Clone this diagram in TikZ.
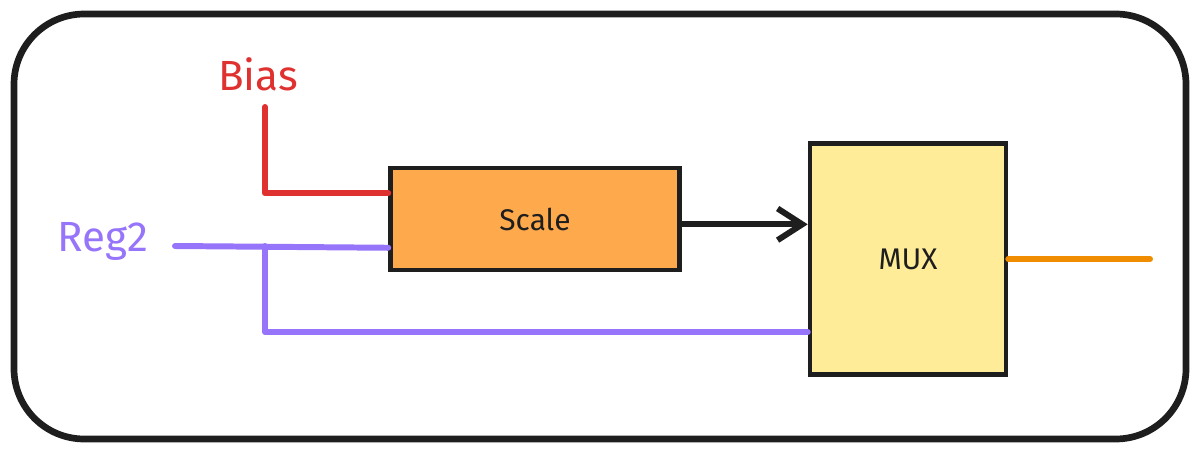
\documentclass[tikz,border=0pt]{standalone}
\usepackage{fontspec}
\setmainfont{Fira Sans}
\usepackage{xcolor}
\usepackage{tikz}
\usetikzlibrary{positioning, calc, arrows.meta}
\definecolor{exBlack}{RGB}{30, 30, 30}
\definecolor{exRed}{RGB}{224, 49, 49}
\definecolor{exViolet}{RGB}{151, 117, 250}
\definecolor{exOrange}{RGB}{255, 169, 77}
\definecolor{exYellow}{RGB}{255, 236, 153}
\definecolor{exAmber}{RGB}{240, 140, 0}
\tikzset{
    block/.style={
        rectangle,
        draw=exBlack,
        line width=2.6pt,
        text=exBlack,
        font=\fontsize{17}{20}\selectfont,
        inner sep=0pt
    },
    wire/.style={
        line width=3.4pt,
        line cap=round,
        line join=round
    },
    tag/.style={
        font=\fontsize{24}{28}\selectfont,
        inner sep=0pt
    }
}

\begin{document}
\begin{tikzpicture}[x=0.02cm, y=-0.02cm]
  \useasboundingbox (0,0) rectangle (1200,453);

  % Frame
  \draw[exBlack, line width=3.8pt, rounded corners=40] (14,14) rectangle (1186,439);

  % Blocks
  \node[block, fill=exOrange, minimum width=5.78cm, minimum height=2.04cm] (scale) at (535,219) {Scale};
  \node[block, fill=exYellow, minimum width=3.92cm, minimum height=4.62cm] (mux) at (908,259) {MUX};

  % Inputs
  \node[tag, text=exRed] (bias) at (258,74) {Bias};
  \node[tag, text=exViolet] (reg2) at (103,241) {Reg2};
  \coordinate (biastop) at (265,107);
  \coordinate (regin) at (175,246);
  \coordinate (split) at (265,246);
  \coordinate (out) at (1150,259);
  \coordinate (scaleout) at ($(scale.north east)!0.55!(scale.south east)$);

  % Wires
  \draw[wire, exRed] (biastop) |- ($(scale.north west)!0.26!(scale.south west)$);
  \draw[wire, exViolet] (regin) -- ($(scale.north west)!0.77!(scale.south west)$);
  \draw[wire, exViolet] (split) |- ($(mux.north west)!0.81!(mux.south west)$);
  \draw[wire, exBlack, -{Straight Barb[length=14pt, width=18pt, line width=3.4pt]}] (scaleout) -- (scaleout -| mux.west);
  \draw[wire, exAmber] (mux.east) -- (out);
\end{tikzpicture}
\end{document}
